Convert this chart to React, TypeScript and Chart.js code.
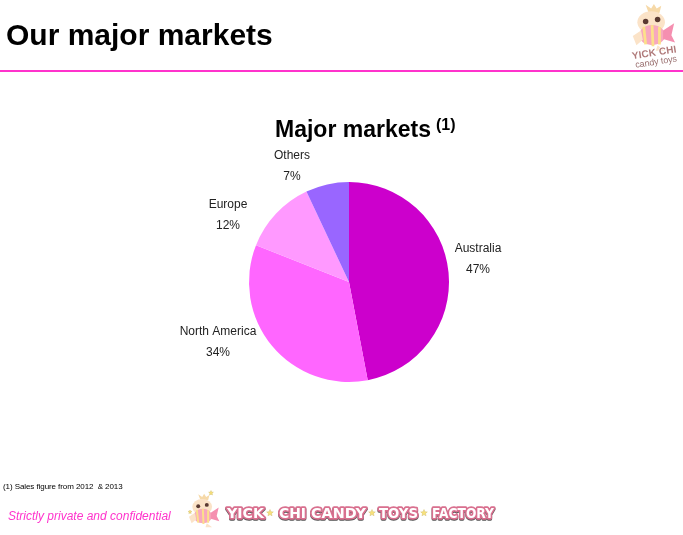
import React, { useEffect, useRef } from "react";
import { Chart, registerables } from "chart.js";

Chart.register(...registerables);

const categories = ["Australia", "North America", "Europe", "Others"];
const shares = [47, 34, 12, 7];
const sliceColors = ["#CC00CC", "#FF66FF", "#FF99FF", "#9966FF"];
const pageTitle = "Our major markets";
const chartTitle = "Major markets";
const chartTitleNote = "(1)";
const footnote = "(1) Sales figure from 2012  & 2013";
const confidentiality = "Strictly private and confidential";
const brandWords = ["YICK", "CHI", "CANDY", "TOYS", "FACTORY"];

const labelOffsets = [
  { dx: 129, dy: -23 },
  { dx: -131, dy: 60 },
  { dx: -121, dy: -67 },
  { dx: -57, dy: -116 },
];

const FONT = '"Liberation Sans", Arial, sans-serif';

const sliceLabels = {
  id: "sliceLabels",
  afterDatasetsDraw(chart: any) {
    const { ctx } = chart;
    const arcs = chart.getDatasetMeta(0).data;
    ctx.save();
    ctx.font = `12px ${FONT}`;
    ctx.fillStyle = "#222222";
    ctx.textAlign = "center";
    ctx.textBaseline = "middle";
    arcs.forEach((arc: any, i: number) => {
      const x = arc.x + labelOffsets[i].dx;
      const y = arc.y + labelOffsets[i].dy;
      ctx.fillText(categories[i], x, y - 10.5);
      ctx.fillText(`${shares[i]}%`, x, y + 10.5);
    });
    ctx.restore();
  },
};

function Mascot({ x, y, scale }: { x: number; y: number; scale: number }) {
  return (
    <svg
      style={{ position: "absolute", left: x, top: y }}
      width={50 * scale}
      height={56 * scale}
      viewBox="0 0 50 56"
    >
      <path d="M20 10 L17 2 L23 6 L26 1 L29 6 L34 3 L32 11 Z" fill="#F6D9A8" />
      <ellipse cx="23" cy="21" rx="15" ry="12" fill="#FBE3C8" />
      <circle cx="17" cy="20" r="3" fill="#5A3A32" />
      <circle cx="30" cy="18" r="3" fill="#5A3A32" />
      <ellipse cx="24" cy="35" rx="14" ry="11" fill="#F7A8BE" />
      <path d="M15 26 L17 45 M24 24 L25 47 M32 26 L32 45" stroke="#FCE08A" strokeWidth="3" />
      <path d="M36 30 L48 22 L45 35 L49 43 L36 39 Z" fill="#F58FB0" />
      <path d="M12 30 L3 36 L7 46 L14 40 Z" fill="#FBE3C8" />
      <path d="M30 46 L38 52 L28 52 Z" fill="#FBE3C8" />
    </svg>
  );
}

function Star({ x, y, r }: { x: number; y: number; r: number }) {
  const pts: string[] = [];
  for (let i = 0; i < 10; i++) {
    const a = (-90 + i * 36) * (Math.PI / 180);
    const d = i % 2 === 0 ? r : r * 0.45;
    pts.push(`${x + d * Math.cos(a)},${y + d * Math.sin(a)}`);
  }
  return <polygon points={pts.join(" ")} fill="#F8E27A" stroke="#C9B765" strokeWidth="0.4" />;
}

export default function App() {
  const canvasRef = useRef<HTMLCanvasElement>(null);

  useEffect(() => {
    document.body.style.margin = "0";
    const chart = new Chart(canvasRef.current!, {
      type: "pie",
      data: {
        labels: categories,
        datasets: [
          {
            data: shares,
            backgroundColor: sliceColors,
            borderWidth: 0,
          },
        ],
      },
      options: {
        animation: false,
        responsive: false,
        devicePixelRatio: 1,
        layout: { padding: { left: 249, right: 234, top: 182, bottom: 153 } },
        plugins: { legend: { display: false }, tooltip: { enabled: false } },
      },
      plugins: [sliceLabels],
    } as any);
    return () => chart.destroy();
  }, []);

  const abs = (left: number, top: number, extra: React.CSSProperties = {}): React.CSSProperties => ({
    position: "absolute",
    left,
    top,
    fontFamily: FONT,
    whiteSpace: "pre",
    lineHeight: 1,
    ...extra,
  });

  const brandSpans = [
    [227, 37],
    [279, 27],
    [311, 55],
    [379, 39],
    [432, 62],
  ];
  const brandStars = [270, 372, 424];

  return (
    <div style={{ position: "relative", width: 683, height: 535, overflow: "hidden", background: "#fff" }}>
      <canvas ref={canvasRef} width={683} height={535} style={{ position: "absolute", left: 0, top: 0 }} />
      <div style={abs(6, 20, { fontSize: 30, fontWeight: 700, color: "#000" })}>{pageTitle}</div>
      <div style={{ position: "absolute", left: 0, top: 70, width: 683, height: 2, background: "#FF33CC" }} />
      <Mascot x={630} y={3} scale={0.92} />
      <svg style={{ position: "absolute", left: 625, top: 40 }} width={58} height={30}>
        <g transform="rotate(-9 28 15)">
          <text x="7" y="16" fontSize="10" fontWeight="700" fontFamily={FONT} fill="#B07A7A" stroke="#FFFFFF" strokeWidth="1.5" paintOrder="stroke" textLength="45">
            YICK CHI
          </text>
          <text x="9" y="25" fontSize="9" fontFamily={FONT} fill="#9A7070" textLength="42">
            candy toys
          </text>
        </g>
      </svg>
      <div style={abs(275, 118, { fontSize: 23, fontWeight: 700, color: "#000" })}>{chartTitle}</div>
      <div style={abs(436, 117, { fontSize: 16, fontWeight: 700, color: "#000" })}>{chartTitleNote}</div>
      <div style={abs(3, 483, { fontSize: 8, color: "#000", letterSpacing: -0.08 })}>{footnote}</div>
      <div style={abs(8, 510, { fontSize: 12, fontStyle: "italic", color: "#FF33CC" })}>{confidentiality}</div>
      <Mascot x={187} y={493} scale={0.66} />
      <svg style={{ position: "absolute", left: 0, top: 490 }} width={683} height={45}>
        <Star x={211} y={27 - 24} r={2.5} />
        <Star x={190} y={22} r={2} />
        {brandStars.map((x) => (
          <Star key={x} x={x} y={23} r={3.5} />
        ))}
        {brandWords.map((w, i) => (
          <text
            key={w}
            x={brandSpans[i][0]}
            y={28}
            fontSize="14"
            fontWeight="700"
            fontFamily='"DejaVu Sans", sans-serif'
            textLength={brandSpans[i][1]}
            lengthAdjust="spacingAndGlyphs"
            fill="#FFFFFF"
            stroke="#D9708F"
            strokeWidth="3.5"
            strokeLinejoin="round"
            paintOrder="stroke"
            style={{ filter: "drop-shadow(0.5px 1px 0 #555)" }}
          >
            {w}
          </text>
        ))}
      </svg>
    </div>
  );
}
